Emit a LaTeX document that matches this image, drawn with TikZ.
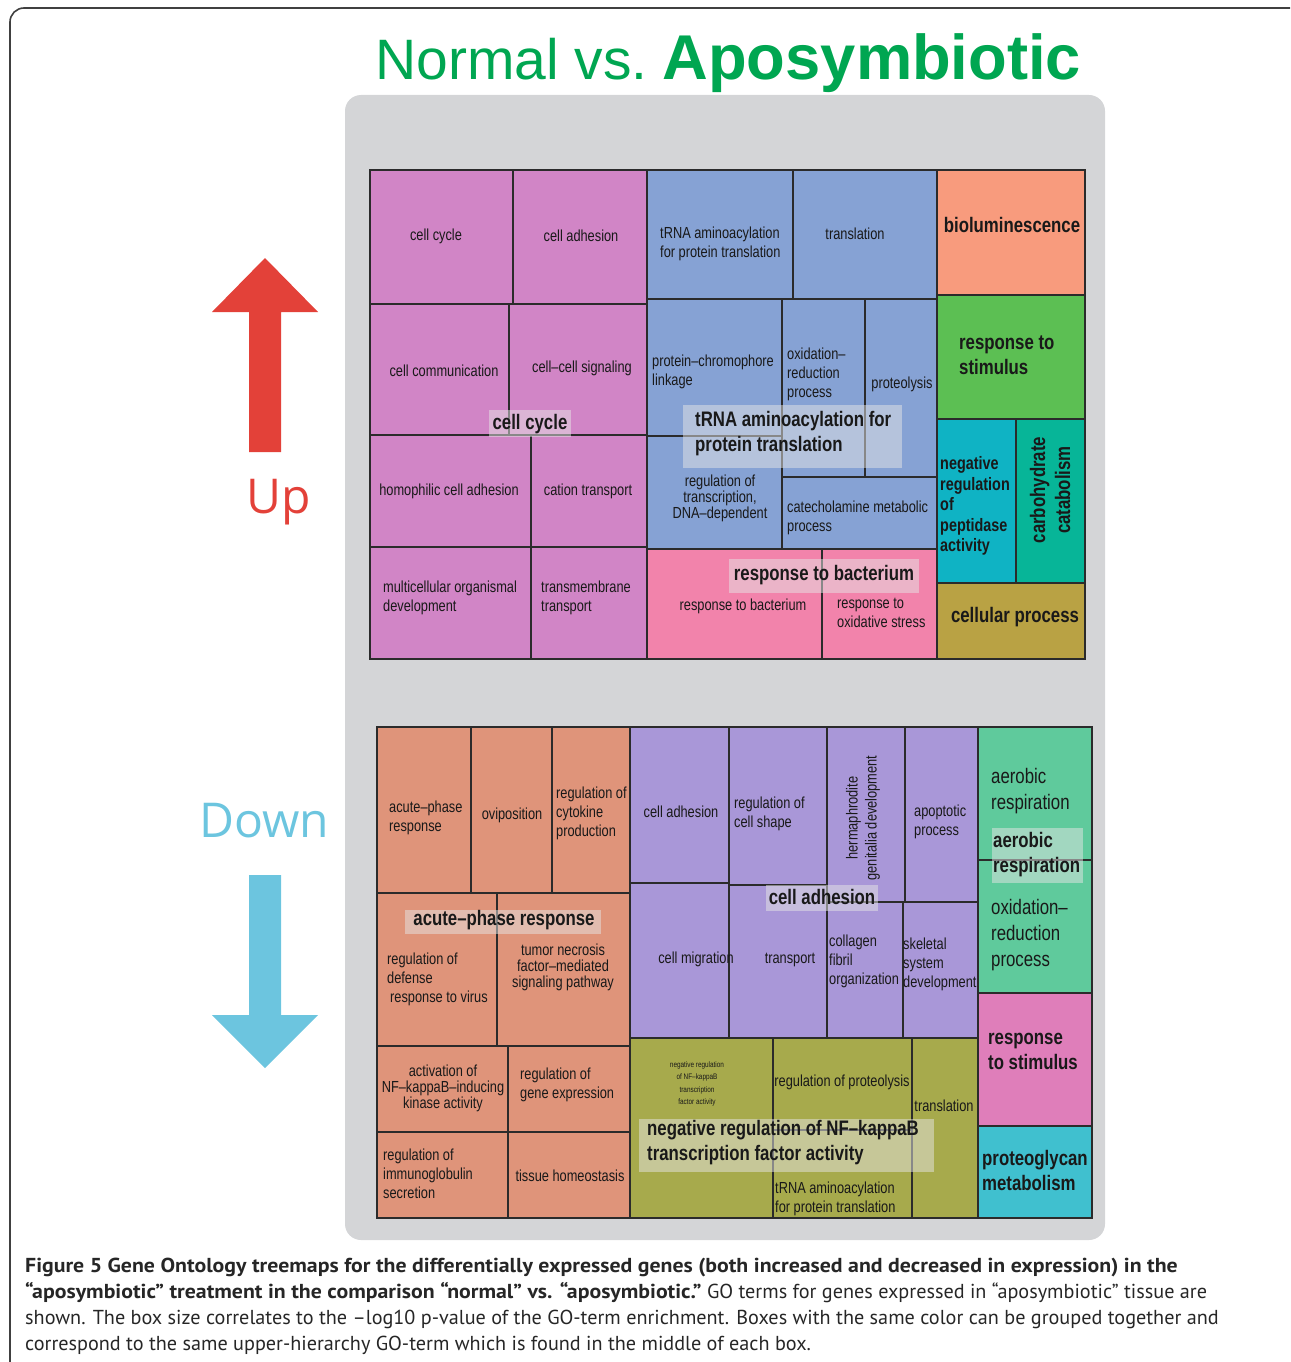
\documentclass[tikz,border=0pt]{standalone}
\usepackage{fontspec}
\setmainfont{Liberation Sans}
\newfontfamily\narrowsf[FakeStretch=0.8]{Liberation Sans}
\newfontfamily\arrowsf{Open Sans}
\newfontfamily\capsf[BoldFeatures={FakeStretch=1.08}]{PT Sans}
\definecolor{titlegreen}{HTML}{00A651}
\definecolor{upred}{HTML}{E34139}
\definecolor{downblue}{HTML}{6CC5DF}
\definecolor{panel}{HTML}{D4D5D7}
\definecolor{boxline}{HTML}{2B2B2B}
\definecolor{pk}{HTML}{D185C6}
\definecolor{bl}{HTML}{86A2D4}
\definecolor{rb}{HTML}{F283AB}
\definecolor{sal}{HTML}{F89B7D}
\definecolor{grn}{HTML}{5CBF53}
\definecolor{cy}{HTML}{0FB3C4}
\definecolor{tl}{HTML}{07B598}
\definecolor{ol}{HTML}{B9A244}
\definecolor{or}{HTML}{DF947A}
\definecolor{pu}{HTML}{A997D8}
\definecolor{ov}{HTML}{A7AA4C}
\definecolor{gr}{HTML}{5FCA9C}
\definecolor{mg}{HTML}{DF7EBA}
\definecolor{cn}{HTML}{40C0CF}
\tikzstyle{box}=[draw=boxline, line width=1.8pt]
\tikzstyle{term}=[font=\narrowsf\fontsize{16}{19}\selectfont, inner sep=0, align=center, text=black!90]
\tikzstyle{terml}=[term, align=left, anchor=west]
\tikzstyle{tight}=[font=\narrowsf\fontsize{16}{16}\selectfont]
\tikzstyle{termbig}=[term, align=left, anchor=west, font=\narrowsf\fontsize{21}{26}\selectfont]
\tikzstyle{head}=[font=\narrowsf\bfseries\fontsize{21}{25}\selectfont, inner sep=0, align=left, text=black!90]
\tikzstyle{tag}=[black!10, opacity=0.5]
\tikzstyle{capline}=[font=\capsf\fontsize{20.2}{26}\selectfont, inner sep=0, anchor=base west, text=black!85]

\begin{document}
\begin{tikzpicture}[x=1pt,y=-1pt]
\useasboundingbox (0,0) rectangle (1290,1362);
\draw[line width=1.6pt, black!75, rounded corners=14] (10,1362) -- (10,8) -- (1290,8);

% title and grey panel
\node[anchor=base west, inner sep=0, text=titlegreen] (title) at (375,80)
  {{\fontsize{57}{60}\selectfont Normal vs.}\hspace{15pt}{\fontsize{63.3}{66}\selectfont\bfseries Aposymbiotic}};
\fill[panel, rounded corners=16] (345,95) rectangle (1105,1240);

% up / down arrows
\fill[upred] (265,258) -- (318,312) -- (281,312) -- (281,452) -- (249,452) -- (249,312) -- (212,312) -- cycle;
\node[font=\arrowsf\fontsize{48}{50}\selectfont, text=upred, inner sep=0] (up) at (279,502) {Up};
\node[font=\arrowsf\fontsize{48}{50}\selectfont, text=downblue, inner sep=0] (down) at (264,821) {Down};
\fill[downblue] (249,875) -- (281,875) -- (281,1015) -- (318,1015) -- (265,1068) -- (212,1015) -- (249,1015) -- cycle;

% upper treemap
\foreach \a/\b/\c/\d/\e in {370/170/513/304/pk, 513/170/647/304/pk, 370/304/509/435/pk, 509/304/647/435/pk,
  370/435/531/547/pk, 531/435/647/547/pk, 370/547/531/659/pk, 531/547/647/659/pk,
  647/170/793/299/bl, 793/170/937/299/bl, 647/299/782/436/bl, 782/299/865/477/bl, 865/299/937/477/bl,
  647/436/782/549/bl, 782/477/937/549/bl, 647/549/822/659/rb, 822/549/937/659/rb,
  937/170/1085/295/sal, 937/295/1085/419/grn, 937/419/1016/583/cy, 1016/419/1085/583/tl, 937/583/1085/659/ol}
  \draw[box, fill=\e] (\a,\b) rectangle (\c,\d);
\draw[draw=boxline, line width=2.5pt] (370,170) rectangle (1085,659);

% lower treemap
\foreach \a/\b/\c/\d/\e in {377/727/471/893/or, 471/727/552/893/or, 552/727/630/893/or, 377/893/497/1046/or,
  497/893/630/1046/or, 377/1046/508/1132/or, 508/1046/630/1132/or, 377/1132/508/1218/or, 508/1132/630/1218/or,
  630/727/729/883/pu, 630/883/729/1038/pu, 729/727/827/885/pu, 729/885/827/1038/pu, 827/727/905/902/pu,
  905/727/978/902/pu, 827/902/903/1038/pu, 903/902/978/1038/pu,
  630/1038/773/1218/ov, 773/1038/912/1130/ov, 773/1130/912/1218/ov, 912/1038/978/1218/ov,
  978/727/1092/860/gr, 978/860/1092/993/gr, 978/993/1092/1126/mg, 978/1126/1092/1218/cn}
  \draw[box, fill=\e] (\a,\b) rectangle (\c,\d);
\draw[draw=boxline, line width=2.5pt] (377,727) rectangle (1092,1218);

% grey tags behind the group names
\fill[tag] (489,410) rectangle (571,437);
\fill[tag] (683,405) rectangle (902,468);
\fill[tag] (729,559) rectangle (919,593);
\fill[tag] (405,910) rectangle (601,934);
\fill[tag] (766,885) rectangle (878,911);
\fill[tag] (639,1119) rectangle (934,1172);
\fill[tag] (992,828) rectangle (1083,883);

% upper terms
\node[term] (cc) at (436,236) {cell cycle};
\node[term] (ca) at (581,236) {cell adhesion};
\node[term] (ccm) at (444,371) {cell communication};
\node[term] (ccs) at (582,368) {cell–cell signaling};
\node[term] (hca) at (449,491) {homophilic cell adhesion};
\node[term] (cat) at (588,491) {cation transport};
\node[terml] (mod) at (383,598) {multicellular organismal\\development};
\node[terml] (tmt) at (541,598) {transmembrane\\transport};
\node[terml] (tap) at (660,244) {tRNA aminoacylation\\for protein translation};
\node[term] (tsl) at (855,234) {translation};
\node[terml] (pcl) at (652,372) {protein–chromophore\\linkage};
\node[terml] (orp) at (787,374) {oxidation–\\reduction\\process};
\node[term] (prt) at (902,384) {proteolysis};
\node[term, tight] (rot) at (720,498) {regulation of\\transcription,\\DNA–dependent};
\node[terml] (cmp) at (787,518) {catecholamine metabolic\\process};
\node[term] (rbc) at (743,606) {response to bacterium};
\node[terml] (ros) at (837,613) {response to\\oxidative stress};
\node[head] (bio) at (1012,225) {bioluminescence};
\node[head, anchor=west] (rts) at (959,355) {response to\\stimulus};
\node[head, anchor=west, font=\narrowsf\bfseries\fontsize{18}{20.5}\selectfont] (nrp) at (940,506) {negative\\regulation\\of\\peptidase\\activity};
\node[head, align=center, rotate=90] (cbc) at (1050,490) {carbohydrate\\catabolism};
\node[head] (clp) at (1015,617) {cellular process};
\node[head] (gcc) at (530,424) {cell cycle};
\node[head, anchor=west] (gta) at (695,434) {tRNA aminoacylation for\\protein translation};
\node[head] (grb) at (824,575) {response to bacterium};

% lower terms
\node[terml] (apr) at (389,818) {acute–phase\\response};
\node[term] (ovp) at (512,815) {oviposition};
\node[terml] (rcp) at (556,813) {regulation of\\cytokine\\production};
\node[terml] (rdv) at (387,979) {regulation of\\defense\\\hspace*{3pt}response to virus};
\node[term, tight] (tnf) at (563,967) {tumor necrosis\\factor–mediated\\signaling pathway};
\node[term, tight] (anf) at (443,1088) {activation of\\NF–kappaB–inducing\\kinase activity};
\node[terml] (rge) at (520,1085) {regulation of\\gene expression};
\node[terml] (ris) at (383,1174) {regulation of\\immunoglobulin\\secretion};
\node[term] (tsh) at (570,1176) {tissue homeostasis};
\node[term] (cad) at (681,812) {cell adhesion};
\node[terml] (rcs) at (734,814) {regulation of\\cell shape};
\node[term, rotate=90] (hgd) at (863,818) {hermaphrodite\\genitalia development};
\node[terml] (app) at (914,822) {apoptotic\\process};
\node[term] (cmg) at (696,959) {cell migration};
\node[term] (trs) at (790,960) {transport};
\node[terml] (cfo) at (829,961) {collagen\\fibril\\organization};
\node[terml] (ssd) at (903,964) {skeletal\\system\\development};
\node[term, font=\narrowsf\fontsize{8}{12.5}\selectfont] (nnf) at (697,1084) {negative regulation\\of NF–kappaB\\transcription\\factor activity};
\node[term] (rpl) at (842,1082) {regulation of proteolysis};
\node[term] (tln) at (944,1106) {translation};
\node[terml] (tap2) at (775,1199) {tRNA aminoacylation\\for protein translation};
\node[termbig] (aer) at (991,791) {aerobic\\respiration};
\node[termbig] (orp2) at (991,935) {oxidation–\\reduction\\process};
\node[head, anchor=west] (rts2) at (988,1051) {response\\to stimulus};
\node[head, anchor=west] (pgm) at (982,1170) {proteoglycan\\metabolism};
\node[head] (gap) at (504,920) {acute–phase response};
\node[head] (gca) at (822,897) {cell adhesion};
\node[head, anchor=west] (gnf) at (647,1143) {negative regulation of NF–kappaB\\transcription factor activity};
\node[head, anchor=west] (gar) at (993,855) {aerobic\\respiration};

% caption
\node[capline] (cap1) at (25,1272) {\bfseries Figure 5 Gene Ontology treemaps for the differentially expressed genes (both increased and decreased in expression) in the};
\node[capline] (cap2) at (25,1298) {\bfseries “aposymbiotic” treatment in the comparison “normal” vs. “aposymbiotic.”\mdseries\ GO terms for genes expressed in “aposymbiotic” tissue are};
\node[capline] (cap3) at (25,1324) {shown. The box size correlates to the –log10 p-value of the GO-term enrichment. Boxes with the same color can be grouped together and};
\node[capline] (cap4) at (25,1350) {correspond to the same upper-hierarchy GO-term which is found in the middle of each box.};
\end{tikzpicture}
\end{document}
